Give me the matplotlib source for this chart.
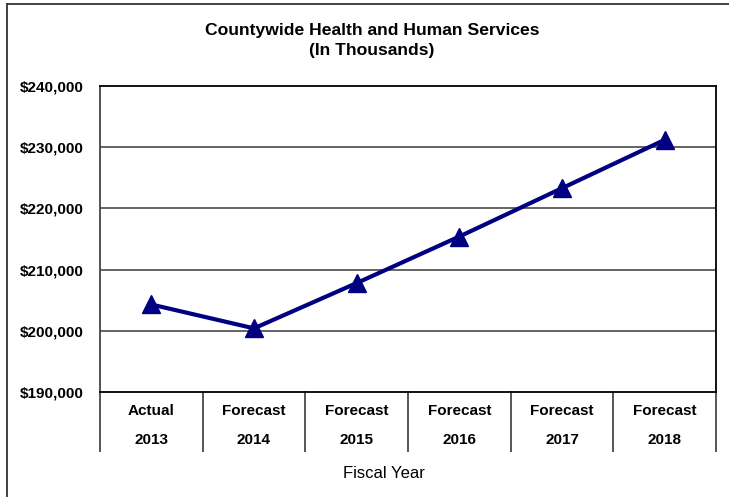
import matplotlib
matplotlib.use("Agg")
import matplotlib.pyplot as plt
from matplotlib.lines import Line2D
from matplotlib.ticker import FuncFormatter

# Data
categories = ["Actual", "Forecast", "Forecast", "Forecast", "Forecast", "Forecast"]
years = ["2013", "2014", "2015", "2016", "2017", "2018"]
values = [204300, 200400, 207800, 215400, 223300, 231200]
y_ticks = [190000, 200000, 210000, 220000, 230000, 240000]

W, H = 729, 497
fig = plt.figure(figsize=(W / 100, H / 100), dpi=100)
plt.rcParams['font.family'] = ['Liberation Sans', 'DejaVu Sans']

L, R, T, B = 100, 716, 86, 392
ax = fig.add_axes([L / W, 1 - B / H, (R - L) / W, (B - T) / H])

x = list(range(len(values)))
ax.plot(x, values, color="#000080", lw=3, marker="^", markersize=13,
        markerfacecolor="#000080", markeredgecolor="#000080", zorder=3)

ax.set_xlim(-0.5, len(values) - 0.5)
ax.set_ylim(y_ticks[0], y_ticks[-1])
ax.set_yticks(y_ticks)
ax.yaxis.set_major_formatter(FuncFormatter(lambda v, p: f"${v:,.0f}"))
ax.tick_params(axis="y", length=0, pad=12, labelsize=11)
for lbl in ax.get_yticklabels():
    lbl.set_fontweight("bold")
ax.set_xticks([])

for yv in y_ticks[1:-1]:
    ax.axhline(yv, color="#3a3a3a", lw=1.1, zorder=1)

for side in ["top", "right", "bottom"]:
    ax.spines[side].set_color("black")
    ax.spines[side].set_linewidth(1.3)
ax.spines["left"].set_color("#444444")
ax.spines["left"].set_linewidth(1.3)

# Category labels below the plot
ah = B - T
for i, (c, yr) in enumerate(zip(categories, years)):
    ax.text(i, (B - 411) / ah, c, transform=ax.get_xaxis_transform(),
            ha="center", va="center", fontsize=11, fontweight="bold")
    ax.text(i, (B - 440) / ah, yr, transform=ax.get_xaxis_transform(),
            ha="center", va="center", fontsize=11, fontweight="bold")

# Separators between categories
for i in range(len(values) + 1):
    ax.plot([i - 0.5, i - 0.5], [0, (B - 451) / ah], transform=ax.get_xaxis_transform(),
            color="#555555", lw=1.4, clip_on=False)

ax.text((384 - L) / (R - L), (B - 474) / ah, "Fiscal Year", transform=ax.transAxes,
        ha="center", va="center", fontsize=12)

fig.text(372 / W, 1 - 30 / H, "Countywide Health and Human Services", ha="center",
         va="center", fontsize=12.6, fontweight="bold")
fig.text(372 / W, 1 - 51 / H, "(In Thousands)", ha="center",
         va="center", fontsize=12.6, fontweight="bold")

# Outer frame (left and top edges)
fig.add_artist(Line2D([7 / W, 7 / W], [0, 1 - 3.5 / H], transform=fig.transFigure,
                      color="#333333", lw=1.3))
fig.add_artist(Line2D([7 / W, 1], [1 - 3.5 / H, 1 - 3.5 / H], transform=fig.transFigure,
                      color="#333333", lw=1.3))

fig.savefig("out.png", dpi=100)
